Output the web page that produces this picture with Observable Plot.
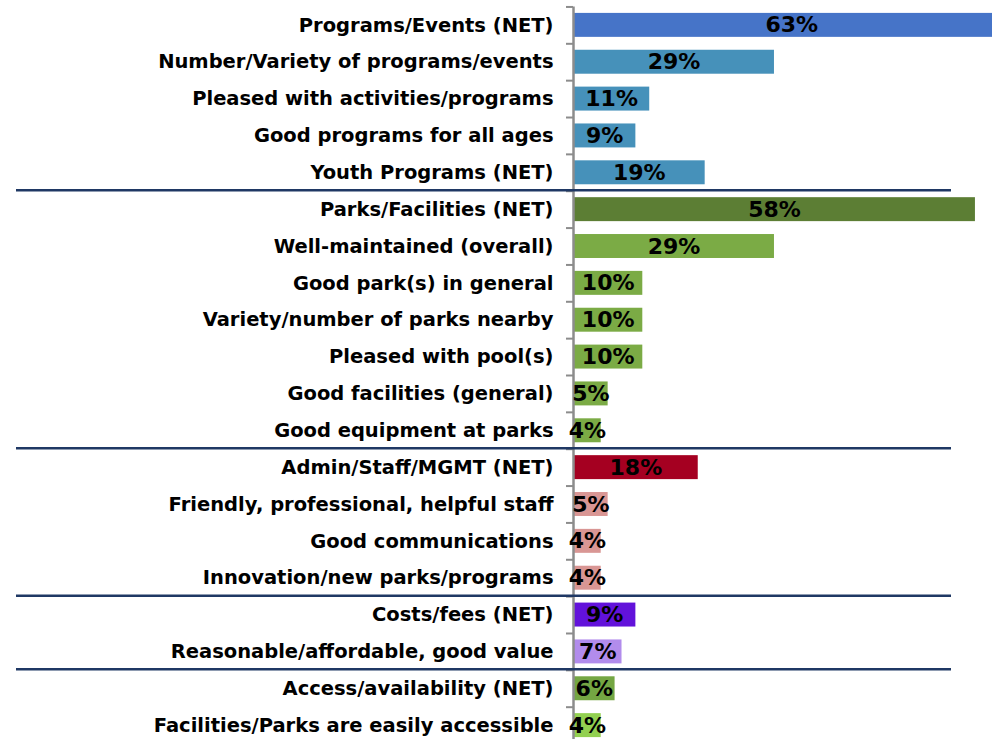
<!DOCTYPE html>
<html>
<head>
<meta charset="utf-8">
<script src="https://cdn.jsdelivr.net/npm/d3@7"></script>
<script src="https://cdn.jsdelivr.net/npm/@observablehq/plot@0.6"></script>
<style>
  html, body { margin: 0; padding: 0; background: #fff; overflow: hidden; }
  #chart svg { display: block; }
</style>
</head>
<body>
<div id="chart"></div>
<script>
const categories = [
  "Programs/Events (NET)",
  "Number/Variety of programs/events",
  "Pleased with activities/programs",
  "Good programs for all ages",
  "Youth Programs (NET)",
  "Parks/Facilities (NET)",
  "Well-maintained (overall)",
  "Good park(s) in general",
  "Variety/number of parks nearby",
  "Pleased with pool(s)",
  "Good facilities (general)",
  "Good equipment at parks",
  "Admin/Staff/MGMT (NET)",
  "Friendly, professional, helpful staff",
  "Good communications",
  "Innovation/new parks/programs",
  "Costs/fees (NET)",
  "Reasonable/affordable, good value",
  "Access/availability (NET)",
  "Facilities/Parks are easily accessible"
];
const values = [63, 29, 11, 9, 19, 58, 29, 10, 10, 10, 5, 4, 18, 5, 4, 4, 9, 7, 6, 4];
const groups = [
  "Programs", "Programs", "Programs", "Programs", "Programs",
  "Parks", "Parks", "Parks", "Parks", "Parks", "Parks", "Parks",
  "Admin", "Admin", "Admin", "Admin",
  "Costs", "Costs",
  "Access", "Access"
];
const kinds = [
  "Programs NET", "Programs item", "Programs item", "Programs item", "Programs item",
  "Parks NET", "Parks item", "Parks item", "Parks item", "Parks item", "Parks item", "Parks item",
  "Admin NET", "Admin item", "Admin item", "Admin item",
  "Costs NET", "Costs item",
  "Access NET", "Access item"
];
const kindDomain = ["Programs NET", "Programs item", "Parks NET", "Parks item", "Admin NET", "Admin item", "Costs NET", "Costs item", "Access NET", "Access item"];
const kindColors = ["#4674C8", "#4691BA", "#5C7E34", "#7BAB45", "#A50021", "#D99694", "#6212DA", "#B28CEC", "#74A643", "#92D050"];

const data = categories.map((c, i) => ({label: c, value: values[i], group: groups[i], kind: kinds[i]}));
const groupStarts = data.filter((d, i) => i > 0 && groups[i] !== groups[i - 1]).map(d => d.label);

const W = 992, H = 750, ML = 573, PAD = 0.35;
const step = H / (categories.length + PAD);
const firstBoundary = PAD * step + (1 - PAD) * step / 2 - step / 2;

const chart = Plot.plot({
  width: W,
  height: H,
  marginLeft: ML,
  marginRight: 0,
  marginTop: 0,
  marginBottom: 0,
  style: {fontFamily: "'DejaVu Sans', Verdana, sans-serif", background: "#fff"},
  x: {domain: [0, 70], range: [ML, ML + 70 * 6.93], axis: null},
  y: {domain: categories, padding: PAD, round: false, axis: null},
  color: {domain: kindDomain, range: kindColors},
  marks: [
    Plot.barX(data, {x: "value", y: "label", fill: "kind", clip: true}),
    Plot.ruleX([0], {stroke: "#8c8c8c", strokeWidth: 2.5, insetTop: firstBoundary}),
    Plot.ruleY(categories, {y: d => d, dy: -step / 2, insetLeft: -7, insetRight: W - ML, stroke: "#8c8c8c", strokeWidth: 2}),
    Plot.ruleY(groupStarts, {y: d => d, dy: -step / 2 - 1, insetLeft: -(ML - 16), insetRight: W - 951, stroke: "#1F3864", strokeWidth: 2.5}),
    Plot.text(data, {x: 0, y: "label", text: "label", dx: -20, textAnchor: "end", fontSize: 19.5, fontWeight: "bold", fill: "#000"}),
    Plot.text(data, {x: d => d.value / 2, y: "label", text: d => d.value + "%", textAnchor: "middle", fontSize: 22, fontWeight: "bold", fill: "#000"})
  ]
});
document.getElementById("chart").appendChild(chart);
</script>
</body>
</html>
